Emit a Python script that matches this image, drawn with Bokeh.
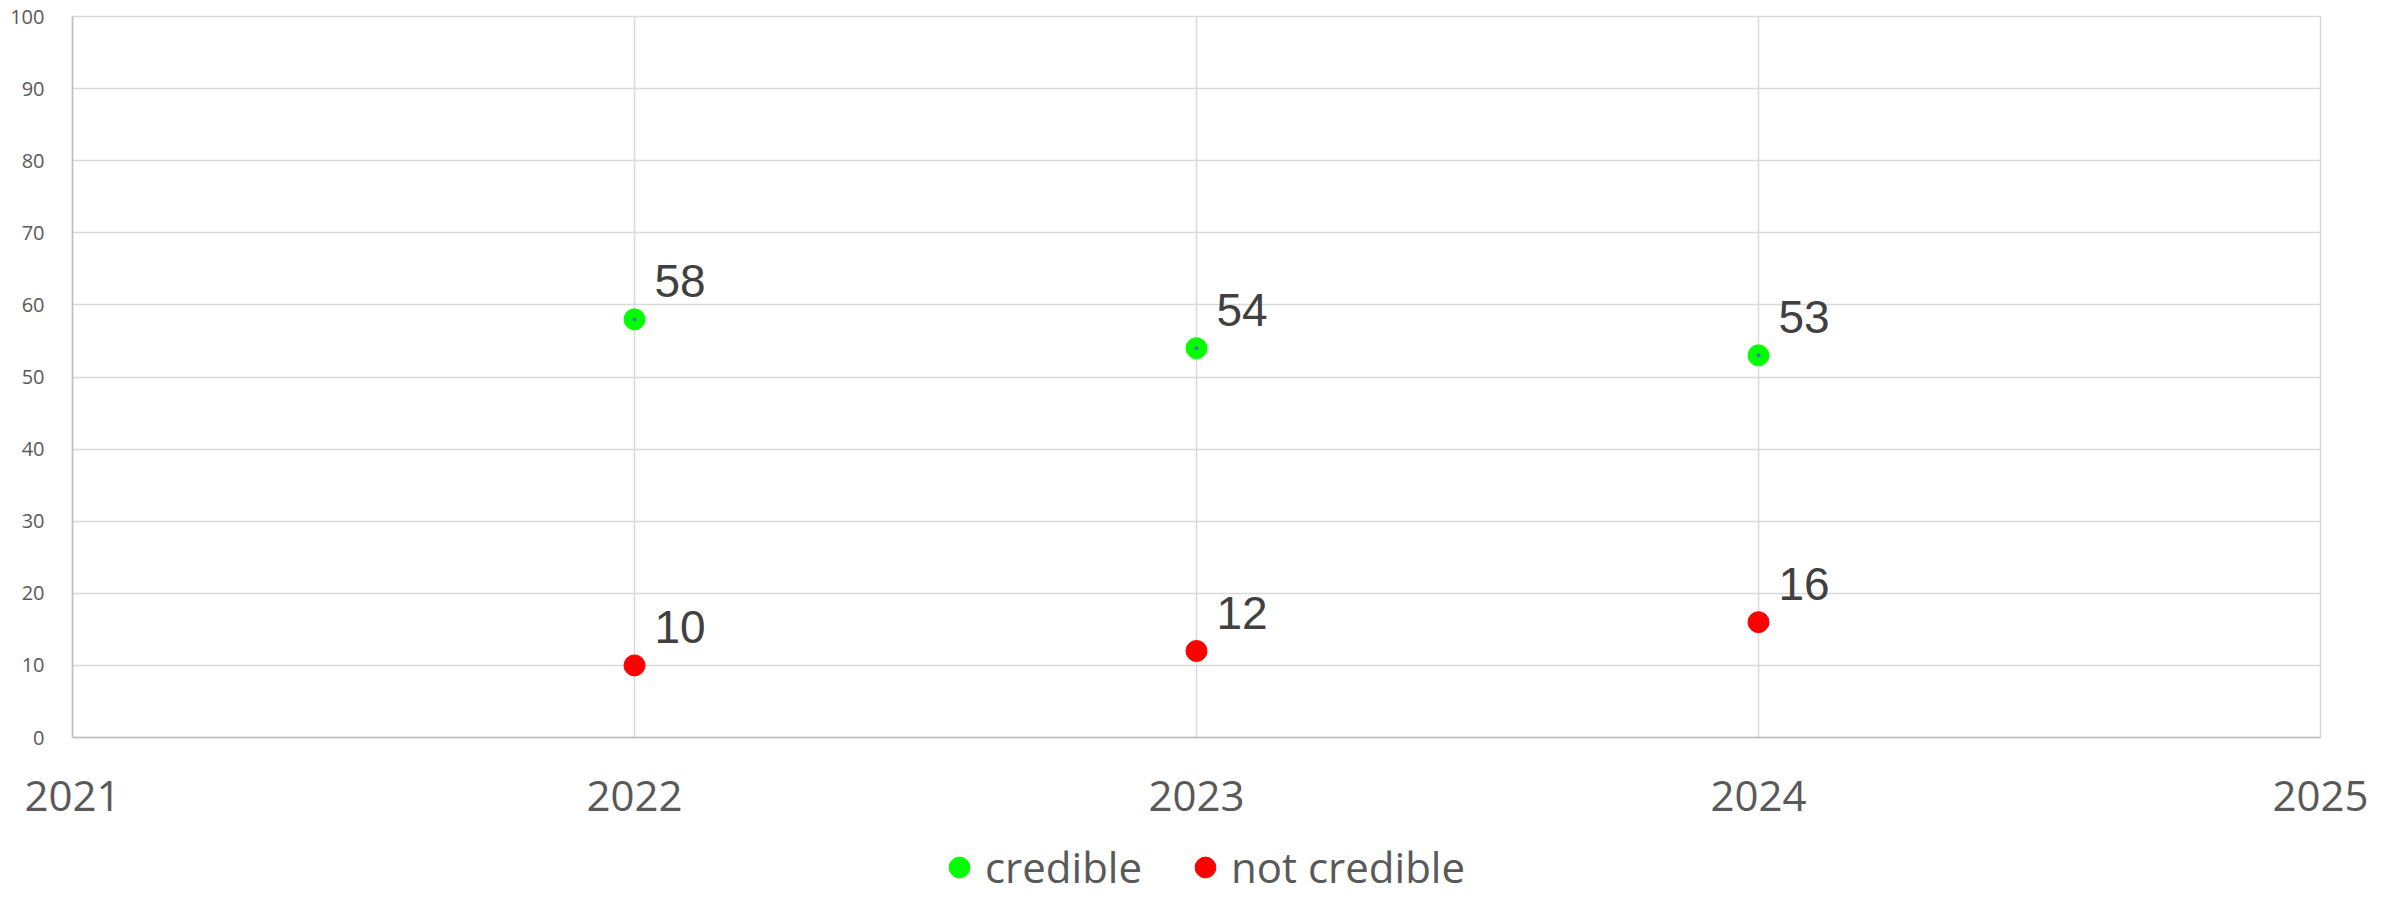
from bokeh.plotting import figure
from bokeh.layouts import column
from bokeh.models import ColumnDataSource, Range1d, FixedTicker, Legend, LegendItem
from bokeh.core.properties import value
from bokeh.embed import file_html
from bokeh.resources import INLINE

years = [2022, 2023, 2024]
credible = [58, 54, 53]
not_credible = [10, 12, 16]
x_ticks = [2021, 2022, 2023, 2024, 2025]
y_ticks = [0, 10, 20, 30, 40, 50, 60, 70, 80, 90, 100]

src_c = ColumnDataSource(dict(x=years, y=credible, t=[str(v) for v in credible]))
src_n = ColumnDataSource(dict(x=years, y=not_credible, t=[str(v) for v in not_credible]))

W = 2389
p = figure(width=W, height=838, output_backend="svg", toolbar_location=None,
           x_range=Range1d(2021, 2025), y_range=Range1d(0, 100),
           min_border_left=72, min_border_right=69, min_border_top=16, min_border_bottom=101)

p.background_fill_color = "white"
p.border_fill_color = "white"
p.outline_line_color = "#d9d9d9"
p.outline_line_width = 1.5

p.xaxis.ticker = FixedTicker(ticks=x_ticks)
p.yaxis.ticker = FixedTicker(ticks=y_ticks)
for ax in (p.xaxis, p.yaxis):
    ax.major_tick_line_color = None
    ax.minor_tick_line_color = None
    ax.axis_line_color = "#bfbfbf"
    ax.axis_line_width = 1.5
    ax.major_label_text_color = "#595959"
    ax.major_label_text_font = "Open Sans"
p.xaxis.major_label_text_font_size = "42px"
p.yaxis.major_label_text_font_size = "20px"
p.xaxis.major_label_standoff = 37
p.yaxis.major_label_standoff = 22

p.xgrid.grid_line_color = "#d9d9d9"
p.ygrid.grid_line_color = "#d9d9d9"
p.xgrid.grid_line_width = 1.5
p.ygrid.grid_line_width = 1.5

p.scatter("x", "y", source=src_c, size=21, color="#00ff00")
p.scatter("x", "y", source=src_c, size=3, color="#4472c4")
p.scatter("x", "y", source=src_n, size=21, color="#ff0000")

for s in (src_c, src_n):
    p.text("x", "y", text="t", source=s, x_offset=20, y_offset=-38,
           text_align="left", text_baseline="alphabetic",
           text_font=value("Liberation Sans"), text_font_size="46px", text_color="#404040")

# legend strip below the chart (the series are out of its view; only the legend shows)
q = figure(width=W, height=60, output_backend="svg", toolbar_location=None,
           x_range=Range1d(0, 1), y_range=Range1d(0, 1),
           x_axis_type=None, y_axis_type=None,
           min_border_left=0, min_border_right=0, min_border_top=0, min_border_bottom=0)
q.outline_line_color = None
q.background_fill_color = "white"
q.border_fill_color = "white"
lc = q.scatter("x", "y", source=src_c, size=21, color="#00ff00")
ln = q.scatter("x", "y", source=src_n, size=21, color="#ff0000")

legend = Legend(items=[LegendItem(label="credible", renderers=[lc]),
                       LegendItem(label="not credible", renderers=[ln])],
                orientation="horizontal", location=(861, 3),
                glyph_width=52, glyph_height=52, label_standoff=0, spacing=37,
                label_text_font="Open Sans", label_text_font_size="42px",
                label_text_color="#595959", border_line_color=None,
                background_fill_alpha=0, padding=0, margin=0)
q.add_layout(legend, "center")

layout = column(p, q, spacing=0)
open("out.html", "w").write(file_html(layout, INLINE))
